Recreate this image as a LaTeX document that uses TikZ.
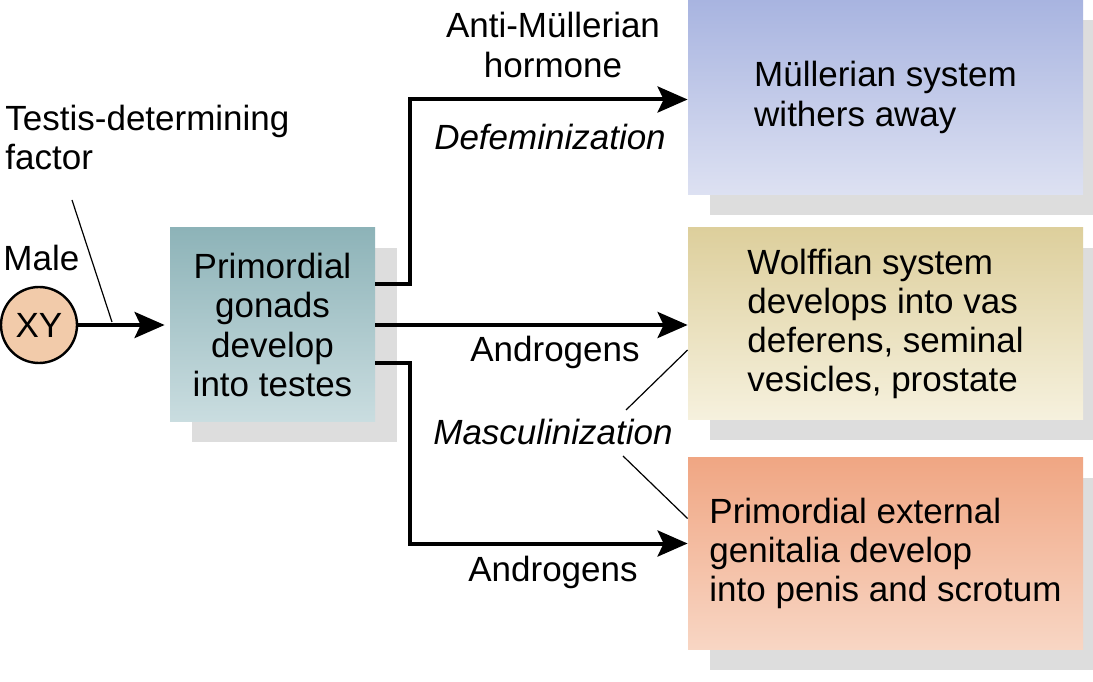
\documentclass[tikz,border=0pt]{standalone}
\usepackage{fontspec}
\setsansfont{Liberation Sans}
\usetikzlibrary{arrows.meta,positioning,calc,shadows}
\definecolor{xypeach}{HTML}{F2CBAA}
\definecolor{gonadtop}{HTML}{8DB3B8}
\definecolor{gonadbot}{HTML}{CADDE0}
\definecolor{muellertop}{HTML}{A8B4E0}
\definecolor{muellerbot}{HTML}{DDE1F2}
\definecolor{wolfftop}{HTML}{DDCF9C}
\definecolor{wolffbot}{HTML}{F6F1DE}
\definecolor{exttop}{HTML}{F0A683}
\definecolor{extbot}{HTML}{F8D6C4}
\definecolor{shadowgray}{HTML}{BDBDBD}

\begin{document}
\begin{tikzpicture}[x=0.5pt, y=0.5pt,
  txt/.style={font=\sffamily\fontsize{17.5}{19.6}\selectfont, inner sep=0pt},
  box/.style={txt, align=left, minimum height=96pt, minimum width=197.5pt,
    drop shadow={shadow xshift=11pt, shadow yshift=-10pt, fill=shadowgray, opacity=0.5}},
  lbl/.style={txt, align=center},
  arrow/.style={-{Stealth[length=15pt, width=13pt, inset=3pt]}, line width=2pt},
  leader/.style={line width=0.6pt},
]
\useasboundingbox (0,0) rectangle (1093,681);
\clip (0,0) rectangle (1093,681);
\fill[white] (0,0) rectangle (1093,681);

% -- Start: male XY --
\node[txt, draw, circle, fill=xypeach, line width=1.2pt, minimum size=38pt] (xy) at (39,356) {XY};
\node[txt, anchor=west] (male) at (3,423) {Male};
\node[txt, anchor=west, align=left] (tdf) at (5,543.5) {Testis-determining\\factor};

% -- Gonads --
\node[box, align=center, minimum width=102.5pt, minimum height=97pt,
  top color=gonadtop, bottom color=gonadbot] (gonads) at (272.5,356)
  {Primordial\\gonads\\develop\\into testes};

% -- Targets --
\node[box, top color=muellertop, bottom color=muellerbot, minimum height=97.5pt] (mueller) at (885.5,583.5)
  {M\"ullerian system\\withers away};
\node[box, top color=wolfftop, bottom color=wolffbot] (wolff) at (885.5,357)
  {Wolffian system\\develops into vas\\deferens, seminal\\vesicles, prostate};
\node[box, top color=exttop, bottom color=extbot] (external) at (885.5,127.5)
  {Primordial external\\genitalia develop\\into penis and scrotum};

% Arrows
\coordinate (tdfend) at (112,359);
\draw[arrow, shorten >=2.5pt] (xy) -- (gonads);
\draw[leader] (72,481) -- (tdfend);

\draw[arrow] ([yshift=20.5pt]gonads.east) -- ++(35,0) |- ([yshift=-1pt]mueller.west);
\draw[arrow] (gonads.east) -- (gonads.east -| wolff.west);
\draw[arrow] ([yshift=-19pt]gonads.east) -- ++(35,0) |- ([yshift=5pt]external.west);

% Labels
\node[lbl] (amh) at (553,636) {Anti-M\"ullerian\\hormone};
\node[lbl, font=\sffamily\itshape\fontsize{17.5}{19.6}\selectfont] (defem) at (550,544) {Defeminization};
\node[lbl] (andro1) at (555,329) {Androgens};
\node[lbl, font=\sffamily\itshape\fontsize{17.5}{19.6}\selectfont] (masc) at (553,249) {Masculinization};
\node[lbl] (andro2) at (553,109) {Androgens};

% Masculinization leaders
\draw[leader] (626,271) -- ([yshift=-13pt]wolff.west);
\draw[leader] (623,225) -- ([yshift=17.5pt]external.west);

\end{tikzpicture}
\end{document}
